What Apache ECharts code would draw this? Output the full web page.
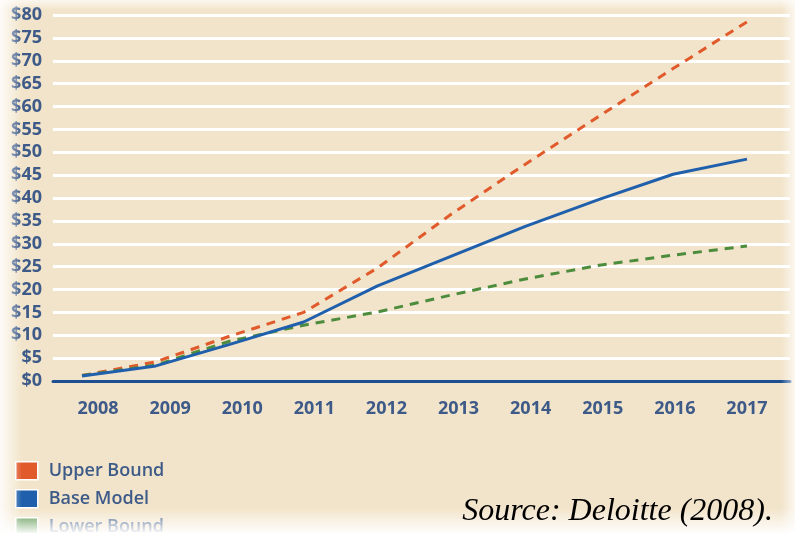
<!DOCTYPE html>
<html>
<head>
<meta charset="utf-8">
<script src="https://cdn.jsdelivr.net/npm/echarts@6/dist/echarts.min.js"></script>
<style>html,body{margin:0;padding:0;background:#f2e4ca;}#c{width:795px;height:533px;}</style>
</head>
<body>
<div id="c"></div>
<script>
var years = ['2008','2009','2010','2011','2012','2013','2014','2015','2016','2017'];
var upperBound = [1.2, 4.2, 9.8, 15.0, 24.7, 36.5, 47.4, 57.9, 68.3, 78.5];
var baseModel = [1.1, 3.3, 8.0, 12.9, 20.8, 27.3, 33.8, 39.7, 45.2, 48.5];
var lowerBound = [1.2, 3.5, 8.7, 12.2, 15.1, 18.8, 22.3, 25.3, 27.5, 29.5];
var seriesNames = ['Upper Bound', 'Base Model', 'Lower Bound'];
var yMin = 0, yMax = 80, yStep = 5;

var labelColor = '#3d5a88';
var chart = echarts.init(document.getElementById('c'));
var TOP = 15, BOTTOM = 152;
function legendFor(i, top) {
  return {
    orient: 'vertical', left: 10, top: top, itemWidth: 22, itemHeight: 18, itemGap: 10,
    icon: 'rect', data: [seriesNames[i]],
    itemStyle: {borderColor: '#ffffff', borderWidth: 1.5},
    textStyle: {color: labelColor, fontSize: 18, fontWeight: 600, fontFamily: 'Open Sans', padding: [0, 0, 0, 6]}
  };
}
chart.setOption({
  backgroundColor: '#f2e4ca',
  animation: false,
  grid: [
    {left: 53, right: 5, top: TOP, bottom: BOTTOM},
    {left: 62, right: 12, top: TOP, bottom: BOTTOM},
    {left: 82, right: 48, top: TOP, bottom: BOTTOM}
  ],
  xAxis: [
    {gridIndex: 0, type: 'value', min: 0, max: 1, show: true,
     axisLine: {show: true, onZero: false, lineStyle: {color: '#1d4f91', width: 3}},
     axisTick: {show: false}, axisLabel: {show: false}, splitLine: {show: false}},
    {gridIndex: 1, type: 'category', data: years, boundaryGap: true,
     axisLine: {show: false}, axisTick: {show: false}, splitLine: {show: false},
     axisLabel: {margin: 19, color: labelColor, fontSize: 18, fontWeight: 'bold', fontFamily: 'Open Sans'}},
    {gridIndex: 2, type: 'category', data: years, boundaryGap: false, show: false}
  ],
  yAxis: [
    {gridIndex: 0, type: 'value', min: yMin, max: yMax, interval: yStep,
     axisLine: {show: false}, axisTick: {show: false},
     axisLabel: {margin: 11, color: labelColor, fontSize: 18, fontWeight: 'bold', fontFamily: 'Open Sans',
       formatter: function (v) { return '$' + v; }},
     splitLine: {show: true, lineStyle: {color: '#ffffff', width: 3}}},
    {gridIndex: 1, type: 'value', min: yMin, max: yMax, show: false},
    {gridIndex: 2, type: 'value', min: yMin, max: yMax, show: false}
  ],
  legend: [legendFor(0, 456), legendFor(1, 484), legendFor(2, 512)],
  series: [
    {name: seriesNames[0], type: 'line', xAxisIndex: 2, yAxisIndex: 2, data: upperBound,
     symbol: 'none', color: '#e05a2b', lineStyle: {color: '#e05a2b', width: 3, type: [9, 7]}, z: 3},
    {name: seriesNames[1], type: 'line', xAxisIndex: 2, yAxisIndex: 2, data: baseModel,
     symbol: 'none', color: '#1f5fab', lineStyle: {color: '#1f5fab', width: 3}, z: 4},
    {name: seriesNames[2], type: 'line', xAxisIndex: 2, yAxisIndex: 2, data: lowerBound,
     symbol: 'none', color: '#4c8c3c', lineStyle: {color: '#4c8c3c', width: 3, type: [9, 7]}, z: 3}
  ],
  graphic: [
    {type: 'rect', left: 0, top: 0, shape: {width: 22, height: 533}, silent: true, z: 100,
     style: {fill: new echarts.graphic.LinearGradient(0, 0, 1, 0, [
       {offset: 0, color: 'rgba(255,255,255,0.85)'}, {offset: 1, color: 'rgba(255,255,255,0)'}])}},
    {type: 'rect', right: 0, top: 0, shape: {width: 14, height: 533}, silent: true, z: 100,
     style: {fill: new echarts.graphic.LinearGradient(0, 0, 1, 0, [
       {offset: 0, color: 'rgba(255,255,255,0)'}, {offset: 1, color: 'rgba(255,255,255,0.7)'}])}},
    {type: 'rect', left: 0, top: 0, shape: {width: 795, height: 10}, silent: true, z: 100,
     style: {fill: new echarts.graphic.LinearGradient(0, 0, 0, 1, [
       {offset: 0, color: 'rgba(255,255,255,0.7)'}, {offset: 1, color: 'rgba(255,255,255,0)'}])}},
    {type: 'rect', left: 0, top: 508, shape: {width: 795, height: 25}, silent: true, z: 100,
     style: {fill: new echarts.graphic.LinearGradient(0, 0, 0, 1, [
       {offset: 0, color: 'rgba(255,255,255,0)'}, {offset: 1, color: 'rgba(255,255,255,0.95)'}])}},
    {type: 'text', right: 22, top: 496, z: 110,
     style: {text: 'Source: Deloitte (2008).', fill: '#000000', font: 'italic 32px "Liberation Serif", "Times New Roman", serif'}}
  ]
});
</script>
</body>
</html>
